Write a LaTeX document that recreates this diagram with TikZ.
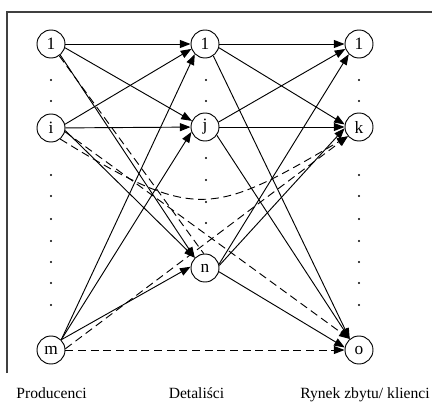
\documentclass[tikz,border=0pt]{standalone}
\usepackage{fontspec}
\setmainfont{Liberation Serif}
\usetikzlibrary{arrows.meta}

\begin{document}
\begin{tikzpicture}[x=0.75pt, y=-0.75pt,
  unit/.style={circle, draw, line width=0.7pt, minimum size=21pt, inner sep=0pt, font=\fontsize{13}{15}\selectfont},
  flow/.style={-{Triangle[length=8pt, width=6pt]}, line width=0.7pt},
  direct/.style={flow, dash pattern=on 6pt off 3.5pt},
  caption/.style={anchor=base, font=\fontsize{11.7}{13}\selectfont},
]
\useasboundingbox (0,0) rectangle (432,403);

% === frame ===
\draw[line width=0.8pt, black!75] (7,373) -- (7,12) -- (432,12);

% === PRODUCERS (left column) ===
\node[unit] (prod1) at (51,44)  {1};
\node[unit] (prodi) at (51,128) {i};
\node[unit] (prodm) at (51,350) {m};

% === RETAILERS (middle column) ===
\node[unit] (det1) at (205,44)  {1};
\node[unit] (detj) at (205,127) {j};
\node[unit] (detn) at (205,268) {n};

% === MARKET / CLIENTS (right column) ===
\node[unit] (ryn1) at (359,44)  {1};
\node[unit] (rynk) at (359,127) {k};
\node[unit] (ryno) at (359,350) {o};

% dots between the units
\foreach \y in {80,101,175,196,219,241,262,283,305}
  {\fill (51,\y) circle (0.9pt); \fill (359,\y) circle (0.9pt);}
\foreach \y in {80,101,158,180,202,223}
  \fill (206,\y) circle (0.9pt);

% producers -> retailers
\draw[flow] (prod1) -- (det1);
\draw[flow] (prod1.-15) -- (detj.155);
\draw[flow] (prod1.-50) -- (detn.135);
\draw[flow] (prodi.15)  -- (det1.200);
\draw[flow] (prodi)     -- (detj);
\draw[flow] (prodi.-10) -- (detn.135);
\draw[flow] (prodm.45)  -- (det1.225);
\draw[flow] (prodm.45)  -- (detj.200);
\draw[flow] (prodm.45)  -- (detn.175);

% retailers -> market
\draw[flow] (det1)      -- (ryn1);
\draw[flow] (det1.-15)  -- (rynk.170);
\draw[flow] (det1.-55)  -- (ryno.130);
\draw[flow] (detj.20)   -- (ryn1.200);
\draw[flow] (detj)      -- (rynk);
\draw[flow] (detj.-35)  -- (ryno.130);
\draw[flow] (detn.15)   -- (ryn1.225);
\draw[flow] (detn.10)   -- (rynk.185);
\draw[flow] (detn.-15)  -- (ryno.170);

% producers -> market (direct, dashed)
\draw[direct, -] (prod1.-55) -- (detn.95);
\draw[direct] (prodi.-15) -- (ryno.130);
\draw[direct] (prodi.-50) .. controls (195,222) and (212,216) .. (rynk.-140);
\draw[direct] (prodm.5)   -- (rynk.-140);
\draw[direct] (prodm)     -- (ryno);

% column captions
\node[caption] (prodlab) at (51.5,398)  {Producenci};
\node[caption] (detlab)  at (196.5,398) {Detaliści};
\node[caption] (rynlab)  at (365,398)   {Rynek zbytu/ klienci};
\end{tikzpicture}
\end{document}
